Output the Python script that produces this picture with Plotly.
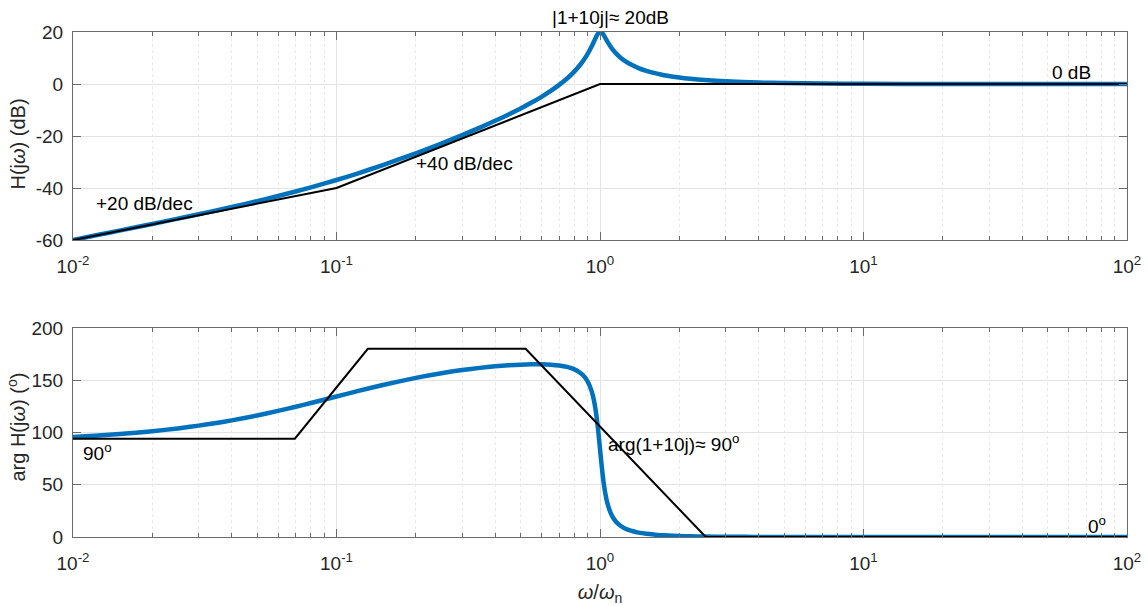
import plotly.graph_objects as go
from plotly.subplots import make_subplots

# frequency samples (omega / omega_n)
w = [0.01, 0.0125, 0.015, 0.02, 0.025, 0.03, 0.035, 0.04, 0.05, 0.06, 0.07, 0.08,
     0.1, 0.12, 0.15, 0.2, 0.25, 0.3, 0.35, 0.4, 0.45, 0.5, 0.55, 0.6, 0.65, 0.7,
     0.75, 0.8, 0.85, 0.875, 0.9, 0.93, 0.94, 0.95, 0.96, 0.97, 0.98, 0.99, 0.995,
     1.0, 1.005, 1.01, 1.02, 1.03, 1.04, 1.05, 1.06, 1.07, 1.09, 1.1, 1.12, 1.15,
     1.2, 1.25, 1.3, 1.4, 1.5, 1.6, 1.7, 1.8, 2.0, 2.2, 2.5, 3.0, 4.0, 5.0, 7.0,
     10.0, 20.0, 50.0, 100.0]
# magnitude (dB)
mag_db = [-59.96, -57.99, -56.38, -53.81, -51.77, -50.08, -48.61, -47.30, -45.03,
          -43.07, -41.32, -39.73, -36.90, -34.42, -31.16, -26.64, -22.88, -19.64,
          -16.77, -14.15, -11.71, -9.39, -7.14, -4.92, -2.67, -0.34, 2.13, 4.86,
          7.98, 9.77, 11.77, 14.49, 15.47, 16.48, 17.47, 18.41, 19.21, 19.79, 19.96,
          20.04, 20.04, 19.96, 19.58, 19.00, 18.30, 17.56, 16.82, 16.10, 14.79,
          14.20, 13.12, 11.77, 10.02, 8.69, 7.66, 6.13, 5.06, 4.27, 3.67, 3.19,
          2.49, 2.00, 1.51, 1.02, 0.56, 0.35, 0.18, 0.09, 0.02, 0.004, 0.0]
# phase (deg)
phase_deg = [95.65, 97.05, 98.45, 101.20, 103.89, 106.53, 109.09, 111.57, 116.28,
             120.62, 124.59, 128.20, 134.42, 139.50, 145.43, 152.24, 156.67, 159.68,
             161.77, 163.24, 164.24, 164.88, 165.19, 165.18, 164.83, 164.05, 162.68,
             160.35, 156.26, 153.01, 148.31, 139.32, 135.01, 129.73, 123.28, 115.46,
             106.17, 95.60, 89.99, 84.29, 78.62, 73.09, 62.79, 53.87, 46.39, 40.26,
             35.23, 31.10, 24.85, 22.46, 18.66, 14.66, 10.50, 7.95, 6.27, 4.21, 3.02,
             2.29, 1.77, 1.41, 0.95, 0.68, 0.44, 0.24, 0.10, 0.04, 0.01, 0.0, 0.0,
             0.0, 0.0]

# asymptotes
mag_asym_w = [0.01, 0.1, 1.0, 100.0]
mag_asym_db = [-60, -40, 0, 0]
ph_asym_w = [0.01, 0.0695, 0.1315, 0.522, 2.52, 100.0]
ph_asym_deg = [94, 94, 180, 180, 0, 0]

major_vals = [0.01, 0.1, 1, 10, 100]
major_text = ["10<sup>-2</sup>", "10<sup>-1</sup>", "10<sup>0</sup>",
              "10<sup>1</sup>", "10<sup>2</sup>"]
minor_vals = [m * d for d in [0.01, 0.1, 1, 10] for m in range(2, 10)]
mag_ticks = [-60, -40, -20, 0, 20]
mag_ticktext = ["-60", "-40", "-20", "0", "20"]
ph_ticks = [0, 50, 100, 150, 200]
ph_ticktext = ["0", "50", "100", "150", "200"]

BLUE = "#0072BD"
FONT = "Liberation Sans, Arial, sans-serif"
TXT = "#262626"
AX = "#6a6a6a"
FS = 19

fig = make_subplots(rows=2, cols=1, vertical_spacing=0.0)

fig.add_trace(go.Scatter(x=w, y=mag_db, mode="lines", line_shape="spline",
                         line=dict(color=BLUE, width=4.5, smoothing=0.6),
                         showlegend=False), 1, 1)
fig.add_trace(go.Scatter(x=mag_asym_w, y=mag_asym_db, mode="lines",
                         line=dict(color="black", width=2), showlegend=False), 1, 1)
fig.add_trace(go.Scatter(x=w, y=phase_deg, mode="lines", line_shape="spline",
                         line=dict(color=BLUE, width=4.5, smoothing=0.6),
                         showlegend=False), 2, 1)
fig.add_trace(go.Scatter(x=ph_asym_w, y=ph_asym_deg, mode="lines",
                         line=dict(color="black", width=2), showlegend=False), 2, 1)

xcommon = dict(type="log", range=[-2, 2], tickvals=major_vals, ticktext=major_text,
               showline=True, linecolor=AX, linewidth=1, mirror="ticks",
               ticks="inside", ticklen=8, tickcolor=AX, automargin=False,
               showgrid=True, gridcolor="#e3e3e3", gridwidth=1, zeroline=False,
               ticklabelstandoff=9,
               tickfont=dict(size=FS, color=TXT, family=FONT),
               minor=dict(tickvals=minor_vals, ticks="inside", ticklen=4,
                          tickcolor=AX, showgrid=True,
                          gridcolor="#e8e8e8", griddash="dot", gridwidth=1))
fig.update_xaxes(**xcommon)
fig.update_xaxes(row=2, col=1,
                 title=dict(text="<i>ω</i>/<i>ω</i><sub>n</sub>",
                            font=dict(size=20, color=TXT, family=FONT), standoff=12))

ycommon = dict(showline=True, linecolor=AX, linewidth=1, mirror="ticks",
               ticks="inside", ticklen=8, tickcolor=AX, automargin=False,
               showgrid=True, gridcolor="#e3e3e3", zeroline=False,
               ticklabelstandoff=5,
               tickfont=dict(size=FS, color=TXT, family=FONT))
fig.update_yaxes(**ycommon)
fig.update_yaxes(row=1, col=1, range=[-60, 20], tickvals=mag_ticks,
                 ticktext=mag_ticktext, domain=[0.588, 1.0])
fig.update_yaxes(row=2, col=1, range=[0, 200], tickvals=ph_ticks,
                 ticktext=ph_ticktext, domain=[0.0, 0.414])

# y-axis titles placed as rotated texts
title_font = dict(size=20, color=TXT, family=FONT)
fig.add_annotation(text="H(j<i>ω</i>) (dB)", textangle=-90, showarrow=False,
                   xref="paper", x=-0.052, xanchor="center",
                   yref="y domain", y=0.46, yanchor="middle", font=title_font)
fig.add_annotation(text="arg H(j<i>ω</i>) (<sup>o</sup>)", textangle=-90,
                   showarrow=False, xref="paper", x=-0.054, xanchor="center",
                   yref="y2 domain", y=0.524, yanchor="middle", font=title_font)

ann_font = dict(size=FS, color="black", family=FONT)
annots = [
    dict(x=0.038, y=1.072, xref="x", yref="y domain", text="|1+10j|≈ 20dB",
         xanchor="center"),
    dict(x=-0.703, y=-30.4, xref="x", yref="y", text="+40 dB/dec", xanchor="left"),
    dict(x=-1.917, y=-45.8, xref="x", yref="y", text="+20 dB/dec", xanchor="left"),
    dict(x=1.713, y=4.6, xref="x", yref="y", text="0 dB", xanchor="left"),
    dict(x=-1.966, y=81, xref="x2", yref="y2", text="90<sup>o</sup>", xanchor="left"),
    dict(x=0.025, y=89.7, xref="x2", yref="y2", text="arg(1+10j)≈ 90<sup>o</sup>",
         xanchor="left"),
    dict(x=1.849, y=11.2, xref="x2", yref="y2", text="0<sup>o</sup>", xanchor="left"),
]
for a in annots:
    fig.add_annotation(showarrow=False, yanchor="middle", font=ann_font,
                       borderpad=0, **a)

fig.update_layout(width=1148, height=606, plot_bgcolor="white", paper_bgcolor="white",
                  margin=dict(l=73, r=21, t=32, b=69),
                  font=dict(family=FONT, color=TXT))

fig.write_html("out.html", config={"displayModeBar": False},
               post_script="document.body.style.margin='0';document.body.style.padding='0';")
